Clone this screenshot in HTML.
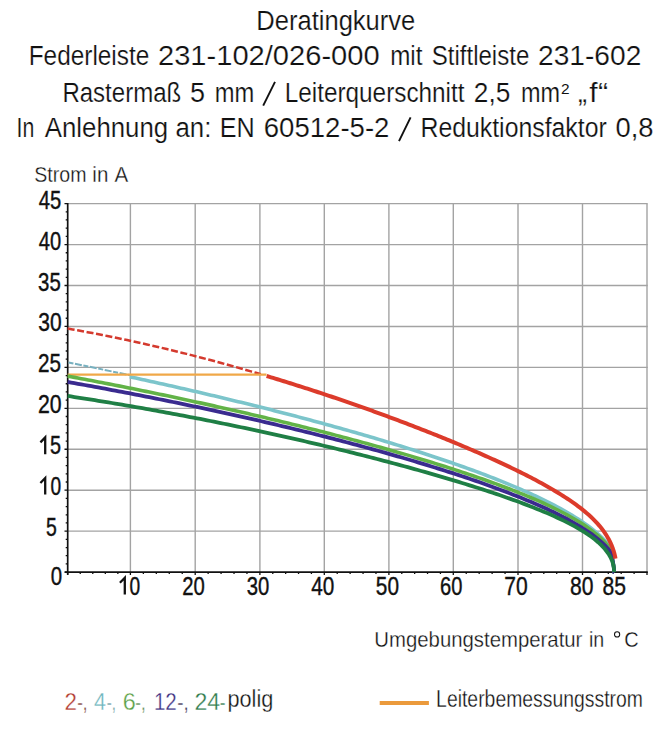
<!DOCTYPE html><html><head><meta charset="utf-8"><style>html,body{margin:0;padding:0;background:#fff;width:671px;height:732px;overflow:hidden}svg{display:block}text{font-family:"Liberation Sans",sans-serif}</style></head><body>
<svg width="671" height="732" viewBox="0 0 671 732">
<rect width="671" height="732" fill="#fff"/>
<text x="256.31" y="29.5" font-size="27" fill="#111" textLength="159.01" lengthAdjust="spacingAndGlyphs" stroke="#fff" stroke-width="0.2">Deratingkurve</text>
<text x="28.69" y="65.0" font-size="27" fill="#111" textLength="120.63" lengthAdjust="spacingAndGlyphs" stroke="#fff" stroke-width="0.2">Federleiste</text>
<text x="158.02" y="65.0" font-size="27" fill="#111" textLength="221.62" lengthAdjust="spacingAndGlyphs" stroke="#fff" stroke-width="0.2">231-102/026-000</text>
<text x="390.21" y="65.0" font-size="27" fill="#111" textLength="32.19" lengthAdjust="spacingAndGlyphs" stroke="#fff" stroke-width="0.2">mit</text>
<text x="431.71" y="65.0" font-size="27" fill="#111" textLength="97.58" lengthAdjust="spacingAndGlyphs" stroke="#fff" stroke-width="0.2">Stiftleiste</text>
<text x="538.06" y="65.0" font-size="27" fill="#111" textLength="103.28" lengthAdjust="spacingAndGlyphs" stroke="#fff" stroke-width="0.2">231-602</text>
<text x="62.42" y="101.8" font-size="27" fill="#111" textLength="118.75" lengthAdjust="spacingAndGlyphs" stroke="#fff" stroke-width="0.2">Rastermaß</text>
<text x="190.00" y="101.8" font-size="27" fill="#111" textLength="15.03" lengthAdjust="spacingAndGlyphs" stroke="#fff" stroke-width="0.2">5</text>
<text x="214.74" y="101.8" font-size="27" fill="#111" textLength="39.50" lengthAdjust="spacingAndGlyphs" stroke="#fff" stroke-width="0.2">mm</text>
<text x="284.70" y="101.8" font-size="27" fill="#111" textLength="179.86" lengthAdjust="spacingAndGlyphs" stroke="#fff" stroke-width="0.2">Leiterquerschnitt</text>
<text x="473.83" y="101.8" font-size="27" fill="#111" textLength="36.50" lengthAdjust="spacingAndGlyphs" stroke="#fff" stroke-width="0.2">2,5</text>
<text x="521.06" y="101.8" font-size="27" fill="#111" textLength="39.06" lengthAdjust="spacingAndGlyphs" stroke="#fff" stroke-width="0.2">mm</text>
<text x="578.10" y="101.8" font-size="27" fill="#111" textLength="9.00" lengthAdjust="spacingAndGlyphs" stroke="#fff" stroke-width="0.2">„</text>
<text x="589.20" y="101.8" font-size="27" fill="#111" textLength="8.36" lengthAdjust="spacingAndGlyphs" stroke="#fff" stroke-width="0.2">f</text>
<text x="598.07" y="101.8" font-size="27" fill="#111" textLength="10.16" lengthAdjust="spacingAndGlyphs" stroke="#fff" stroke-width="0.2">“</text>
<text x="16.52" y="137.0" font-size="27" fill="#111" textLength="17.79" lengthAdjust="spacingAndGlyphs" stroke="#fff" stroke-width="0.2">In</text>
<text x="44.80" y="137.0" font-size="27" fill="#111" textLength="123.33" lengthAdjust="spacingAndGlyphs" stroke="#fff" stroke-width="0.2">Anlehnung</text>
<text x="175.44" y="137.0" font-size="27" fill="#111" textLength="35.89" lengthAdjust="spacingAndGlyphs" stroke="#fff" stroke-width="0.2">an:</text>
<text x="219.64" y="137.0" font-size="27" fill="#111" textLength="34.98" lengthAdjust="spacingAndGlyphs" stroke="#fff" stroke-width="0.2">EN</text>
<text x="263.78" y="137.0" font-size="27" fill="#111" textLength="125.65" lengthAdjust="spacingAndGlyphs" stroke="#fff" stroke-width="0.2">60512-5-2</text>
<text x="420.46" y="137.0" font-size="27" fill="#111" textLength="186.30" lengthAdjust="spacingAndGlyphs" stroke="#fff" stroke-width="0.2">Reduktionsfaktor</text>
<text x="615.49" y="137.0" font-size="27" fill="#111" textLength="38.07" lengthAdjust="spacingAndGlyphs" stroke="#fff" stroke-width="0.2">0,8</text>
<text x="34.31" y="181.5" font-size="22" fill="#111" textLength="52.19" lengthAdjust="spacingAndGlyphs" stroke="#fff" stroke-width="0.3">Strom</text>
<text x="92.37" y="181.5" font-size="22" fill="#111" textLength="15.98" lengthAdjust="spacingAndGlyphs" stroke="#fff" stroke-width="0.3">in</text>
<text x="114.60" y="181.5" font-size="22" fill="#111" textLength="13.71" lengthAdjust="spacingAndGlyphs" stroke="#fff" stroke-width="0.3">A</text>
<text x="374.35" y="646.8" font-size="22" fill="#111" textLength="208.06" lengthAdjust="spacingAndGlyphs" stroke="#fff" stroke-width="0.3">Umgebungstemperatur</text>
<text x="588.91" y="646.8" font-size="22" fill="#111" textLength="15.30" lengthAdjust="spacingAndGlyphs" stroke="#fff" stroke-width="0.3">in</text>
<text x="624.29" y="646.8" font-size="22" fill="#111" textLength="14.42" lengthAdjust="spacingAndGlyphs" stroke="#fff" stroke-width="0.3">C</text>
<text x="436.11" y="707.0" font-size="23" fill="#111" textLength="206.91" lengthAdjust="spacingAndGlyphs" stroke="#fff" stroke-width="0.3">Leiterbemessungsstrom</text>
<text x="227.46" y="707.0" font-size="23" fill="#111" textLength="45.86" lengthAdjust="spacingAndGlyphs" stroke="#fff" stroke-width="0.3">polig</text>
<text x="64.43" y="710.4" font-size="23" fill="#b23a2e" textLength="12.45" lengthAdjust="spacingAndGlyphs" stroke="#fff" stroke-width="0.3">2</text>
<text x="77.16" y="710.4" font-size="23" fill="#7a3a30" textLength="10.36" lengthAdjust="spacingAndGlyphs" stroke="#fff" stroke-width="0.3">-,</text>
<text x="94.00" y="710.4" font-size="23" fill="#6cb4bc" textLength="11.94" lengthAdjust="spacingAndGlyphs" stroke="#fff" stroke-width="0.3">4</text>
<text x="106.75" y="710.4" font-size="23" fill="#6a9aa0" textLength="9.20" lengthAdjust="spacingAndGlyphs" stroke="#fff" stroke-width="0.3">-,</text>
<text x="122.88" y="710.4" font-size="23" fill="#5aa044" textLength="13.03" lengthAdjust="spacingAndGlyphs" stroke="#fff" stroke-width="0.3">6</text>
<text x="135.26" y="710.4" font-size="23" fill="#5a8a50" textLength="10.36" lengthAdjust="spacingAndGlyphs" stroke="#fff" stroke-width="0.3">-,</text>
<text x="153.91" y="710.4" font-size="23" fill="#3a2e80" textLength="22.92" lengthAdjust="spacingAndGlyphs" stroke="#fff" stroke-width="0.3">12</text>
<text x="177.18" y="710.4" font-size="23" fill="#3a3050" textLength="11.51" lengthAdjust="spacingAndGlyphs" stroke="#fff" stroke-width="0.3">-,</text>
<text x="194.50" y="710.4" font-size="23" fill="#2e7a4a" textLength="25.70" lengthAdjust="spacingAndGlyphs" stroke="#fff" stroke-width="0.3">24</text>
<text x="219.75" y="710.4" font-size="23" fill="#2e7a4a" textLength="5.75" lengthAdjust="spacingAndGlyphs" stroke="#fff" stroke-width="0.3">-</text>
<text x="38.70" y="209.3" font-size="25" fill="#111" textLength="22.46" lengthAdjust="spacingAndGlyphs" stroke="#111" stroke-width="0.4">45</text>
<text x="38.80" y="249.7" font-size="25" fill="#111" textLength="22.35" lengthAdjust="spacingAndGlyphs" stroke="#111" stroke-width="0.4">40</text>
<text x="38.08" y="290.7" font-size="25" fill="#111" textLength="22.68" lengthAdjust="spacingAndGlyphs" stroke="#111" stroke-width="0.4">35</text>
<text x="38.36" y="331.1" font-size="25" fill="#111" textLength="23.32" lengthAdjust="spacingAndGlyphs" stroke="#111" stroke-width="0.4">30</text>
<text x="38.07" y="372.1" font-size="25" fill="#111" textLength="23.00" lengthAdjust="spacingAndGlyphs" stroke="#111" stroke-width="0.4">25</text>
<text x="38.05" y="413.0" font-size="25" fill="#111" textLength="23.64" lengthAdjust="spacingAndGlyphs" stroke="#111" stroke-width="0.4">20</text>
<text x="46.12" y="535.9" font-size="25" fill="#111" textLength="10.78" lengthAdjust="spacingAndGlyphs" stroke="#111" stroke-width="0.4">5</text>
<text x="50.68" y="585.3" font-size="25" fill="#111" textLength="11.36" lengthAdjust="spacingAndGlyphs" stroke="#111" stroke-width="0.4">0</text>
<text x="182.19" y="594.6" font-size="25" fill="#111" textLength="22.57" lengthAdjust="spacingAndGlyphs" stroke="#111" stroke-width="0.4">20</text>
<text x="246.69" y="594.6" font-size="25" fill="#111" textLength="22.57" lengthAdjust="spacingAndGlyphs" stroke="#111" stroke-width="0.4">30</text>
<text x="311.20" y="594.6" font-size="25" fill="#111" textLength="23.07" lengthAdjust="spacingAndGlyphs" stroke="#111" stroke-width="0.4">40</text>
<text x="375.87" y="594.6" font-size="25" fill="#111" textLength="23.11" lengthAdjust="spacingAndGlyphs" stroke="#111" stroke-width="0.4">50</text>
<text x="440.00" y="594.6" font-size="25" fill="#111" textLength="22.36" lengthAdjust="spacingAndGlyphs" stroke="#111" stroke-width="0.4">60</text>
<text x="504.36" y="594.6" font-size="25" fill="#111" textLength="23.43" lengthAdjust="spacingAndGlyphs" stroke="#111" stroke-width="0.4">70</text>
<text x="570.06" y="594.6" font-size="25" fill="#111" textLength="23.43" lengthAdjust="spacingAndGlyphs" stroke="#111" stroke-width="0.4">80</text>
<text x="602.46" y="594.6" font-size="25" fill="#111" textLength="23.43" lengthAdjust="spacingAndGlyphs" stroke="#111" stroke-width="0.4">85</text>
<text x="50.11" y="454.2" font-size="25" fill="#111" textLength="11.01" lengthAdjust="spacingAndGlyphs" stroke="#111" stroke-width="0.4">5</text>
<text x="50.43" y="494.5" font-size="25" fill="#111" textLength="10.66" lengthAdjust="spacingAndGlyphs" stroke="#111" stroke-width="0.4">0</text>
<text x="129.43" y="594.6" font-size="25" fill="#111" textLength="10.66" lengthAdjust="spacingAndGlyphs" stroke="#111" stroke-width="0.4">0</text>
<path d="M263.2 105.6L275 81.8M399 141.2L410.6 117.4" stroke="#111" stroke-width="1.9"/>
<path d="M45.2 454.3V437.40000000000003L40.4 442.4" stroke="#111" stroke-width="2.3" fill="none" stroke-linejoin="miter"/>
<path d="M45.2 494.5V478.0L40.4 483.0" stroke="#111" stroke-width="2.3" fill="none" stroke-linejoin="miter"/>
<path d="M124.8 594.6V577.8000000000001L119.9 582.7" stroke="#111" stroke-width="2.3" fill="none" stroke-linejoin="miter"/>
<circle cx="617.1" cy="634.4" r="2.6" fill="none" stroke="#111" stroke-width="1.05"/>
<text x="561.0" y="93.6" font-size="14" fill="#111" textLength="8.6" lengthAdjust="spacingAndGlyphs">2</text>
<line x1="130.4" y1="203.64000000000004" x2="130.4" y2="572.1" stroke="#a3a3a3" stroke-width="1.4"/>
<line x1="195.2" y1="203.64000000000004" x2="195.2" y2="572.1" stroke="#a3a3a3" stroke-width="1.4"/>
<line x1="259.9" y1="203.64000000000004" x2="259.9" y2="572.1" stroke="#a3a3a3" stroke-width="1.4"/>
<line x1="324.3" y1="203.64000000000004" x2="324.3" y2="572.1" stroke="#a3a3a3" stroke-width="1.4"/>
<line x1="388.9" y1="203.64000000000004" x2="388.9" y2="572.1" stroke="#a3a3a3" stroke-width="1.4"/>
<line x1="453.3" y1="203.64000000000004" x2="453.3" y2="572.1" stroke="#a3a3a3" stroke-width="1.4"/>
<line x1="518.0" y1="203.64000000000004" x2="518.0" y2="572.1" stroke="#a3a3a3" stroke-width="1.4"/>
<line x1="582.5" y1="203.64000000000004" x2="582.5" y2="572.1" stroke="#a3a3a3" stroke-width="1.4"/>
<line x1="647.0" y1="203.64000000000004" x2="647.0" y2="572.1" stroke="#a3a3a3" stroke-width="1.4"/>
<line x1="67.7" y1="531.16" x2="647.7" y2="531.16" stroke="#a3a3a3" stroke-width="1.4"/>
<line x1="67.7" y1="490.22" x2="647.7" y2="490.22" stroke="#a3a3a3" stroke-width="1.4"/>
<line x1="67.7" y1="449.28" x2="647.7" y2="449.28" stroke="#a3a3a3" stroke-width="1.4"/>
<line x1="67.7" y1="408.34" x2="647.7" y2="408.34" stroke="#a3a3a3" stroke-width="1.4"/>
<line x1="67.7" y1="367.40" x2="647.7" y2="367.40" stroke="#a3a3a3" stroke-width="1.4"/>
<line x1="67.7" y1="326.46" x2="647.7" y2="326.46" stroke="#a3a3a3" stroke-width="1.4"/>
<line x1="67.7" y1="285.52" x2="647.7" y2="285.52" stroke="#a3a3a3" stroke-width="1.4"/>
<line x1="67.7" y1="244.58" x2="647.7" y2="244.58" stroke="#a3a3a3" stroke-width="1.4"/>
<line x1="67.7" y1="203.64" x2="647.7" y2="203.64" stroke="#a3a3a3" stroke-width="1.4"/>
<line x1="67.7" y1="202.94" x2="67.7" y2="574.8" stroke="#111" stroke-width="1.7"/>
<line x1="64.8" y1="572.1" x2="647.8" y2="572.1" stroke="#111" stroke-width="1.7"/>
<path d="M64.50 572.10H67.70 M65.70 563.91H67.70 M65.70 555.72H67.70 M65.70 547.53H67.70 M65.70 539.34H67.70 M64.50 531.15H67.70 M65.70 522.97H67.70 M65.70 514.78H67.70 M65.70 506.59H67.70 M65.70 498.40H67.70 M64.50 490.21H67.70 M65.70 482.02H67.70 M65.70 473.83H67.70 M65.70 465.64H67.70 M65.70 457.45H67.70 M64.50 449.26H67.70 M65.70 441.08H67.70 M65.70 432.89H67.70 M65.70 424.70H67.70 M65.70 416.51H67.70 M64.50 408.32H67.70 M65.70 400.13H67.70 M65.70 391.94H67.70 M65.70 383.75H67.70 M65.70 375.56H67.70 M64.50 367.38H67.70 M65.70 359.19H67.70 M65.70 351.00H67.70 M65.70 342.81H67.70 M65.70 334.62H67.70 M64.50 326.43H67.70 M65.70 318.24H67.70 M65.70 310.05H67.70 M65.70 301.86H67.70 M65.70 293.67H67.70 M64.50 285.49H67.70 M65.70 277.30H67.70 M65.70 269.11H67.70 M65.70 260.92H67.70 M65.70 252.73H67.70 M64.50 244.54H67.70 M65.70 236.35H67.70 M65.70 228.16H67.70 M65.70 219.97H67.70 M65.70 211.78H67.70 M64.50 203.60H67.70 M67.70 572.10V574.90 M80.24 572.10V574.10 M92.78 572.10V574.10 M105.32 572.10V574.10 M117.86 572.10V574.10 M130.40 572.10V574.90 M143.36 572.10V574.10 M156.32 572.10V574.10 M169.28 572.10V574.10 M182.24 572.10V574.10 M195.20 572.10V574.90 M208.14 572.10V574.10 M221.08 572.10V574.10 M234.02 572.10V574.10 M246.96 572.10V574.10 M259.90 572.10V574.90 M272.78 572.10V574.10 M285.66 572.10V574.10 M298.54 572.10V574.10 M311.42 572.10V574.10 M324.30 572.10V574.90 M337.22 572.10V574.10 M350.14 572.10V574.10 M363.06 572.10V574.10 M375.98 572.10V574.10 M388.90 572.10V574.90 M401.78 572.10V574.10 M414.66 572.10V574.10 M427.54 572.10V574.10 M440.42 572.10V574.10 M453.30 572.10V574.90 M466.24 572.10V574.10 M479.18 572.10V574.10 M492.12 572.10V574.10 M505.06 572.10V574.10 M518.00 572.10V574.90 M530.90 572.10V574.10 M543.80 572.10V574.10 M556.70 572.10V574.10 M569.60 572.10V574.10 M582.50 572.10V574.90 M595.40 572.10V574.10 M608.30 572.10V574.10 M621.20 572.10V574.10 M634.10 572.10V574.10 M647.00 572.10V574.90" stroke="#111" stroke-width="1.3" fill="none"/>
<path d="M67.67 328.59 L72.63 329.46 L77.58 330.34 L82.53 331.24 L87.48 332.16 L92.44 333.09 L97.39 334.04 L102.34 335.00 L107.30 335.99 L112.25 336.99 L117.20 338.00 L122.15 339.04 L127.11 340.08 L132.06 341.15 L137.01 342.23 L141.96 343.33 L146.92 344.44 L151.87 345.57 L156.82 346.71 L161.78 347.87 L166.73 349.05 L171.68 350.24 L176.63 351.45 L181.59 352.67 L186.54 353.91 L191.49 355.16 L196.45 356.43 L201.40 357.72 L206.35 359.02 L211.30 360.33 L216.26 361.66 L221.21 363.00 L226.16 364.36 L231.11 365.73 L236.07 367.12 L241.02 368.52 L245.97 369.94 L250.93 371.37 L255.88 372.82 L260.83 374.28" stroke="#d43a2e" stroke-width="2.5" fill="none" stroke-dasharray="7 2.6"/>
<path d="M68.5 362.4L131 375.4" stroke="#78b0bf" stroke-width="2" fill="none" stroke-dasharray="5 1.6 7 1.6"/>
<path d="M129.73 376.81 L132.74 377.46 L135.75 378.11 L138.76 378.76 L141.77 379.42 L144.78 380.07 L147.79 380.73 L150.80 381.40 L153.81 382.06 L156.82 382.73 L159.83 383.40 L162.84 384.07 L165.85 384.74 L168.86 385.42 L171.87 386.10 L174.88 386.78 L177.89 387.46 L180.90 388.14 L183.91 388.83 L186.92 389.52 L189.93 390.21 L192.94 390.91 L195.95 391.61 L198.96 392.31 L201.97 393.01 L204.98 393.71 L207.99 394.42 L211.00 395.13 L214.01 395.84 L217.01 396.55 L220.02 397.27 L223.03 397.99 L226.04 398.71 L229.05 399.44 L232.06 400.16 L235.07 400.89 L238.08 401.63 L241.09 402.36 L244.10 403.10 L247.11 403.84 L250.12 404.59 L253.13 405.33 L256.14 406.08 L259.15 406.83 L262.16 407.59 L265.17 408.35 L268.18 409.11 L271.19 409.87 L274.20 410.64 L277.21 411.41 L280.22 412.18 L283.23 412.95 L286.24 413.73 L289.25 414.52 L292.26 415.30 L295.27 416.09 L298.28 416.88 L301.29 417.68 L304.30 418.47 L307.30 419.28 L310.31 420.08 L313.32 420.89 L316.33 421.70 L319.34 422.52 L322.35 423.33 L325.36 424.16 L328.37 424.98 L331.38 425.81 L334.39 426.65 L337.40 427.48 L340.41 428.32 L343.42 429.17 L346.43 430.02 L349.44 430.87 L352.45 431.73 L355.46 432.59 L358.47 433.45 L361.48 434.32 L364.49 435.20 L367.50 436.08 L370.51 436.96 L373.52 437.84 L376.53 438.74 L379.54 439.63 L382.55 440.53 L385.56 441.44 L388.57 442.35 L391.58 443.27 L394.59 444.19 L397.59 445.11 L400.60 446.04 L403.61 446.98 L406.62 447.92 L409.63 448.87 L412.64 449.82 L415.65 450.78 L418.66 451.75 L421.67 452.72 L424.68 453.70 L427.69 454.68 L430.70 455.67 L433.71 456.67 L436.72 457.67 L439.73 458.68 L442.74 459.70 L445.75 460.72 L448.76 461.75 L451.77 462.79 L454.78 463.84 L457.79 464.90 L460.80 465.96 L463.81 467.03 L466.82 468.12 L469.83 469.21 L472.84 470.31 L475.85 471.42 L478.86 472.53 L481.87 473.66 L484.88 474.80 L487.89 475.96 L490.89 477.12 L493.90 478.29 L496.91 479.48 L499.92 480.68 L502.93 481.89 L505.94 483.11 L508.95 484.35 L511.96 485.60 L514.97 486.87 L517.98 488.16 L520.99 489.46 L524.00 490.78 L527.01 492.12 L530.02 493.48 L533.03 494.85 L536.04 496.25 L539.05 497.67 L542.06 499.12 L545.07 500.59 L548.08 502.09 L551.09 503.61 L554.10 505.17 L557.11 506.76 L560.12 508.39 L563.13 510.05 L566.14 511.76 L569.15 513.51 L572.16 515.31 L575.17 517.16 L578.18 519.08 L581.18 521.06 L584.19 523.11 L587.20 525.26 L590.21 527.49 L593.22 529.85 L596.23 532.33 L599.24 534.98 L602.25 537.83 L605.26 540.93 L608.27 544.38 L608.43 544.56 L608.58 544.75 L608.73 544.94 L608.89 545.13 L609.04 545.33 L609.20 545.52 L609.35 545.72 L609.50 545.92 L609.66 546.17 L609.81 546.48 L609.97 546.85 L610.12 547.26 L610.27 547.72 L610.43 548.23 L610.58 548.79 L610.74 549.38 L610.89 550.02 L611.04 550.69 L611.20 551.39 L611.35 552.13 L611.51 552.90 L611.66 553.70 L611.81 554.53 L611.97 555.38 L612.12 556.25 L612.28 557.14 L612.43 558.05 L612.58 558.99 L612.74 559.94 L612.89 560.91 L613.05 561.90 L613.20 562.91 L613.35 563.96 L613.51 565.05 L613.66 566.22 L613.82 567.53 L613.97 569.17 L614.12 572.04 L614.28 572.10" stroke="#7cc5cb" stroke-width="3.6" fill="none"/>
<line x1="67.7" y1="374.7" x2="266.5" y2="374.7" stroke="#f0a848" stroke-width="2.3"/>
<path d="M67.67 376.11 L71.07 376.74 L74.47 377.38 L77.87 378.02 L81.27 378.66 L84.67 379.30 L88.07 379.95 L91.47 380.60 L94.87 381.25 L98.27 381.90 L101.67 382.56 L105.07 383.22 L108.47 383.89 L111.87 384.55 L115.27 385.22 L118.67 385.89 L122.07 386.57 L125.47 387.24 L128.87 387.92 L132.27 388.61 L135.67 389.29 L139.07 389.98 L142.47 390.67 L145.87 391.37 L149.27 392.06 L152.67 392.76 L156.07 393.47 L159.47 394.17 L162.87 394.88 L166.27 395.59 L169.67 396.31 L173.07 397.03 L176.47 397.75 L179.87 398.47 L183.27 399.20 L186.67 399.93 L190.07 400.66 L193.47 401.40 L196.87 402.14 L200.27 402.88 L203.67 403.62 L207.07 404.37 L210.47 405.13 L213.87 405.88 L217.27 406.64 L220.67 407.40 L224.07 408.16 L227.47 408.93 L230.87 409.70 L234.27 410.48 L237.67 411.25 L241.07 412.03 L244.47 412.82 L247.87 413.61 L251.27 414.40 L254.67 415.19 L258.07 415.99 L261.47 416.79 L264.87 417.59 L268.27 418.40 L271.67 419.22 L275.07 420.03 L278.47 420.85 L281.87 421.67 L285.27 422.50 L288.67 423.33 L292.07 424.16 L295.47 425.00 L298.87 425.84 L302.27 426.69 L305.67 427.54 L309.07 428.39 L312.47 429.25 L315.87 430.11 L319.27 430.98 L322.67 431.84 L326.07 432.72 L329.47 433.60 L332.87 434.48 L336.27 435.37 L339.67 436.26 L343.07 437.15 L346.47 438.05 L349.87 438.96 L353.27 439.87 L356.67 440.78 L360.07 441.70 L363.47 442.63 L366.87 443.56 L370.27 444.49 L373.67 445.43 L377.07 446.38 L380.47 447.33 L383.87 448.28 L387.27 449.24 L390.67 450.21 L394.07 451.18 L397.47 452.16 L400.87 453.15 L404.27 454.14 L407.67 455.13 L411.07 456.14 L414.47 457.15 L417.87 458.17 L421.27 459.19 L424.67 460.22 L428.07 461.26 L431.47 462.30 L434.87 463.36 L438.27 464.42 L441.67 465.49 L445.07 466.56 L448.47 467.65 L451.87 468.75 L455.27 469.85 L458.67 470.96 L462.07 472.09 L465.47 473.22 L468.87 474.36 L472.27 475.52 L475.67 476.68 L479.07 477.86 L482.47 479.05 L485.87 480.25 L489.27 481.46 L492.67 482.69 L496.07 483.93 L499.47 485.19 L502.87 486.46 L506.27 487.74 L509.67 489.05 L513.07 490.37 L516.47 491.71 L519.87 493.07 L523.27 494.45 L526.67 495.86 L530.07 497.28 L533.47 498.73 L536.87 500.21 L540.27 501.72 L543.67 503.25 L547.07 504.82 L550.47 506.43 L553.87 508.07 L557.27 509.75 L560.67 511.48 L564.07 513.26 L567.47 515.09 L570.87 516.98 L574.27 518.94 L577.67 520.98 L581.07 523.10 L584.47 525.32 L587.87 527.66 L591.27 530.13 L594.67 532.78 L598.07 535.62 L601.47 538.73 L604.87 542.18 L608.27 546.14 L608.43 546.33 L608.58 546.53 L608.73 546.73 L608.89 546.93 L609.04 547.13 L609.20 547.33 L609.35 547.54 L609.50 547.75 L609.66 548.00 L609.81 548.30 L609.97 548.64 L610.12 549.03 L610.27 549.46 L610.43 549.92 L610.58 550.42 L610.74 550.96 L610.89 551.53 L611.04 552.14 L611.20 552.77 L611.35 553.43 L611.51 554.12 L611.66 554.83 L611.81 555.57 L611.97 556.33 L612.12 557.12 L612.28 557.92 L612.43 558.74 L612.58 559.59 L612.74 560.46 L612.89 561.34 L613.05 562.26 L613.20 563.20 L613.35 564.18 L613.51 565.21 L613.66 566.33 L613.82 567.59 L613.97 569.20 L614.12 572.05 L614.28 572.10" stroke="#62b347" stroke-width="3.6" fill="none"/>
<path d="M67.67 381.96 L71.07 382.56 L74.47 383.17 L77.87 383.77 L81.27 384.38 L84.67 385.00 L88.07 385.61 L91.47 386.23 L94.87 386.85 L98.27 387.48 L101.67 388.11 L105.07 388.74 L108.47 389.37 L111.87 390.01 L115.27 390.65 L118.67 391.29 L122.07 391.94 L125.47 392.59 L128.87 393.24 L132.27 393.90 L135.67 394.56 L139.07 395.22 L142.47 395.88 L145.87 396.55 L149.27 397.22 L152.67 397.90 L156.07 398.57 L159.47 399.25 L162.87 399.94 L166.27 400.63 L169.67 401.32 L173.07 402.01 L176.47 402.71 L179.87 403.41 L183.27 404.11 L186.67 404.82 L190.07 405.53 L193.47 406.24 L196.87 406.96 L200.27 407.68 L203.67 408.40 L207.07 409.13 L210.47 409.86 L213.87 410.59 L217.27 411.33 L220.67 412.07 L224.07 412.82 L227.47 413.57 L230.87 414.32 L234.27 415.07 L237.67 415.83 L241.07 416.60 L244.47 417.36 L247.87 418.13 L251.27 418.91 L254.67 419.68 L258.07 420.46 L261.47 421.25 L264.87 422.04 L268.27 422.83 L271.67 423.63 L275.07 424.43 L278.47 425.24 L281.87 426.04 L285.27 426.86 L288.67 427.67 L292.07 428.50 L295.47 429.32 L298.87 430.15 L302.27 430.99 L305.67 431.82 L309.07 432.67 L312.47 433.51 L315.87 434.37 L319.27 435.22 L322.67 436.08 L326.07 436.95 L329.47 437.82 L332.87 438.69 L336.27 439.57 L339.67 440.46 L343.07 441.34 L346.47 442.24 L349.87 443.14 L353.27 444.04 L356.67 444.95 L360.07 445.87 L363.47 446.79 L366.87 447.71 L370.27 448.64 L373.67 449.58 L377.07 450.52 L380.47 451.47 L383.87 452.42 L387.27 453.38 L390.67 454.35 L394.07 455.32 L397.47 456.30 L400.87 457.28 L404.27 458.27 L407.67 459.27 L411.07 460.28 L414.47 461.29 L417.87 462.31 L421.27 463.33 L424.67 464.37 L428.07 465.41 L431.47 466.46 L434.87 467.51 L438.27 468.58 L441.67 469.65 L445.07 470.73 L448.47 471.82 L451.87 472.92 L455.27 474.03 L458.67 475.15 L462.07 476.28 L465.47 477.42 L468.87 478.57 L472.27 479.73 L475.67 480.90 L479.07 482.08 L482.47 483.28 L485.87 484.48 L489.27 485.70 L492.67 486.94 L496.07 488.18 L499.47 489.44 L502.87 490.72 L506.27 492.01 L509.67 493.32 L513.07 494.65 L516.47 495.99 L519.87 497.36 L523.27 498.74 L526.67 500.14 L530.07 501.57 L533.47 503.02 L536.87 504.50 L540.27 506.00 L543.67 507.53 L547.07 509.09 L550.47 510.68 L553.87 512.31 L557.27 513.98 L560.67 515.69 L564.07 517.44 L567.47 519.25 L570.87 521.11 L574.27 523.03 L577.67 525.02 L581.07 527.09 L584.47 529.25 L587.87 531.51 L591.27 533.90 L594.67 536.43 L598.07 539.15 L601.47 542.09 L604.87 545.35 L608.27 549.05 L608.43 549.24 L608.58 549.42 L608.73 549.60 L608.89 549.79 L609.04 549.98 L609.20 550.17 L609.35 550.36 L609.50 550.55 L609.66 550.77 L609.81 551.03 L609.97 551.31 L610.12 551.62 L610.27 551.97 L610.43 552.34 L610.58 552.74 L610.74 553.16 L610.89 553.62 L611.04 554.10 L611.20 554.61 L611.35 555.14 L611.51 555.69 L611.66 556.28 L611.81 556.88 L611.97 557.51 L612.12 558.17 L612.28 558.85 L612.43 559.55 L612.58 560.28 L612.74 561.04 L612.89 561.82 L613.05 562.64 L613.20 563.50 L613.35 564.40 L613.51 565.37 L613.66 566.43 L613.82 567.65 L613.97 569.22 L614.12 572.06 L614.28 572.10" stroke="#3a2b8f" stroke-width="3.8" fill="none"/>
<path d="M67.67 395.97 L71.07 396.49 L74.47 397.01 L77.87 397.54 L81.27 398.07 L84.67 398.60 L88.07 399.14 L91.47 399.68 L94.87 400.22 L98.27 400.77 L101.67 401.32 L105.07 401.88 L108.47 402.44 L111.87 403.00 L115.27 403.57 L118.67 404.14 L122.07 404.71 L125.47 405.29 L128.87 405.87 L132.27 406.46 L135.67 407.05 L139.07 407.64 L142.47 408.24 L145.87 408.84 L149.27 409.45 L152.67 410.06 L156.07 410.67 L159.47 411.29 L162.87 411.91 L166.27 412.53 L169.67 413.16 L173.07 413.80 L176.47 414.43 L179.87 415.07 L183.27 415.72 L186.67 416.36 L190.07 417.01 L193.47 417.67 L196.87 418.33 L200.27 418.99 L203.67 419.66 L207.07 420.33 L210.47 421.00 L213.87 421.68 L217.27 422.36 L220.67 423.05 L224.07 423.74 L227.47 424.43 L230.87 425.13 L234.27 425.83 L237.67 426.54 L241.07 427.25 L244.47 427.96 L247.87 428.68 L251.27 429.40 L254.67 430.13 L258.07 430.86 L261.47 431.59 L264.87 432.33 L268.27 433.07 L271.67 433.81 L275.07 434.56 L278.47 435.31 L281.87 436.07 L285.27 436.83 L288.67 437.60 L292.07 438.37 L295.47 439.14 L298.87 439.92 L302.27 440.70 L305.67 441.49 L309.07 442.28 L312.47 443.07 L315.87 443.87 L319.27 444.67 L322.67 445.48 L326.07 446.29 L329.47 447.11 L332.87 447.93 L336.27 448.75 L339.67 449.58 L343.07 450.42 L346.47 451.25 L349.87 452.10 L353.27 452.94 L356.67 453.80 L360.07 454.65 L363.47 455.52 L366.87 456.38 L370.27 457.25 L373.67 458.13 L377.07 459.01 L380.47 459.90 L383.87 460.79 L387.27 461.69 L390.67 462.59 L394.07 463.50 L397.47 464.41 L400.87 465.33 L404.27 466.25 L407.67 467.18 L411.07 468.12 L414.47 469.06 L417.87 470.01 L421.27 470.96 L424.67 471.92 L428.07 472.89 L431.47 473.87 L434.87 474.85 L438.27 475.83 L441.67 476.83 L445.07 477.83 L448.47 478.84 L451.87 479.86 L455.27 480.88 L458.67 481.92 L462.07 482.96 L465.47 484.01 L468.87 485.07 L472.27 486.14 L475.67 487.22 L479.07 488.30 L482.47 489.40 L485.87 490.51 L489.27 491.63 L492.67 492.77 L496.07 493.91 L499.47 495.07 L502.87 496.24 L506.27 497.43 L509.67 498.63 L513.07 499.85 L516.47 501.08 L519.87 502.33 L523.27 503.60 L526.67 504.89 L530.07 506.20 L533.47 507.53 L536.87 508.89 L540.27 510.27 L543.67 511.68 L547.07 513.12 L550.47 514.59 L553.87 516.10 L557.27 517.65 L560.67 519.24 L564.07 520.89 L567.47 522.58 L570.87 524.33 L574.27 526.16 L577.67 528.06 L581.07 530.05 L584.47 532.15 L587.87 534.38 L591.27 536.76 L594.67 539.34 L598.07 542.17 L601.47 545.34 L604.87 549.02 L608.27 553.54 L608.42 553.77 L608.57 554.00 L608.72 554.24 L608.87 554.47 L609.02 554.71 L609.17 554.96 L609.32 555.21 L609.46 555.46 L609.61 555.72 L609.76 555.98 L609.91 556.25 L610.06 556.52 L610.21 556.80 L610.36 557.09 L610.51 557.38 L610.66 557.67 L610.81 557.98 L610.95 558.29 L611.10 558.61 L611.25 558.94 L611.40 559.28 L611.55 559.62 L611.70 559.98 L611.85 560.35 L612.00 560.74 L612.15 561.14 L612.30 561.55 L612.44 561.99 L612.59 562.44 L612.74 562.93 L612.89 563.44 L613.04 563.98 L613.19 564.57 L613.34 565.21 L613.49 565.92 L613.64 566.74 L613.79 567.70 L613.94 568.98 L614.08 572.10" stroke="#1f7f45" stroke-width="3.8" fill="none"/>
<path d="M266.64 376.01 L268.79 376.66 L270.94 377.30 L273.09 377.95 L275.24 378.61 L277.39 379.26 L279.54 379.92 L281.68 380.58 L283.83 381.25 L285.98 381.91 L288.13 382.58 L290.28 383.26 L292.43 383.93 L294.58 384.61 L296.72 385.29 L298.87 385.97 L301.02 386.65 L303.17 387.34 L305.32 388.03 L307.47 388.72 L309.62 389.42 L311.76 390.12 L313.91 390.82 L316.06 391.52 L318.21 392.23 L320.36 392.94 L322.51 393.65 L324.66 394.36 L326.80 395.08 L328.95 395.80 L331.10 396.52 L333.25 397.24 L335.40 397.97 L337.55 398.70 L339.70 399.43 L341.84 400.17 L343.99 400.91 L346.14 401.65 L348.29 402.39 L350.44 403.13 L352.59 403.88 L354.74 404.63 L356.89 405.39 L359.03 406.14 L361.18 406.90 L363.33 407.66 L365.48 408.43 L367.63 409.19 L369.78 409.96 L371.93 410.73 L374.07 411.51 L376.22 412.29 L378.37 413.07 L380.52 413.85 L382.67 414.64 L384.82 415.42 L386.97 416.21 L389.11 417.01 L391.26 417.81 L393.41 418.61 L395.56 419.41 L397.71 420.21 L399.86 421.02 L402.01 421.83 L404.15 422.65 L406.30 423.46 L408.45 424.28 L410.60 425.10 L412.75 425.93 L414.90 426.76 L417.05 427.59 L419.19 428.43 L421.34 429.26 L423.49 430.10 L425.64 430.95 L427.79 431.80 L429.94 432.65 L432.09 433.50 L434.23 434.36 L436.38 435.22 L438.53 436.08 L440.68 436.95 L442.83 437.82 L444.98 438.69 L447.13 439.57 L449.28 440.45 L451.42 441.34 L453.57 442.22 L455.72 443.12 L457.87 444.01 L460.02 444.91 L462.17 445.82 L464.32 446.73 L466.46 447.64 L468.61 448.55 L470.76 449.48 L472.91 450.40 L475.06 451.33 L477.21 452.27 L479.36 453.20 L481.50 454.15 L483.65 455.10 L485.80 456.05 L487.95 457.01 L490.10 457.98 L492.25 458.95 L494.40 459.92 L496.54 460.90 L498.69 461.89 L500.84 462.89 L502.99 463.89 L505.14 464.89 L507.29 465.91 L509.44 466.93 L511.58 467.96 L513.73 468.99 L515.88 470.04 L518.03 471.09 L520.18 472.15 L522.33 473.22 L524.48 474.30 L526.63 475.39 L528.77 476.49 L530.92 477.59 L533.07 478.71 L535.22 479.85 L537.37 480.99 L539.52 482.15 L541.67 483.32 L543.81 484.50 L545.96 485.70 L548.11 486.91 L550.26 488.14 L552.41 489.39 L554.56 490.66 L556.71 491.95 L558.85 493.26 L561.00 494.59 L563.15 495.95 L565.30 497.33 L567.45 498.74 L569.60 500.18 L571.75 501.65 L573.89 503.16 L576.04 504.71 L578.19 506.31 L580.34 507.95 L582.49 509.64 L584.64 511.39 L586.79 513.21 L588.93 515.09 L591.08 517.07 L593.23 519.13 L595.38 521.31 L597.53 523.62 L599.68 526.09 L601.83 528.74 L603.97 531.63 L606.12 534.82 L608.27 538.42 L608.46 538.76 L608.64 539.10 L608.83 539.44 L609.01 539.79 L609.20 540.15 L609.38 540.51 L609.57 540.87 L609.76 541.24 L609.94 541.62 L610.13 542.00 L610.31 542.39 L610.50 542.79 L610.68 543.19 L610.87 543.60 L611.05 544.02 L611.24 544.44 L611.42 544.88 L611.61 545.32 L611.80 545.77 L611.98 546.23 L612.17 546.71 L612.35 547.19 L612.54 547.69 L612.72 548.20 L612.91 548.72 L613.09 549.26 L613.28 549.82 L613.46 550.39 L613.65 550.98 L613.84 551.59 L614.02 552.23 L614.21 552.89 L614.39 553.58 L614.58 554.30 L614.76 555.06 L614.95 555.87 L615.13 556.72 L615.32 557.63 L615.50 558.61" stroke="#dc3b2b" stroke-width="4" fill="none"/>
<line x1="379.7" y1="702.9" x2="428.9" y2="702.9" stroke="#eb9a3c" stroke-width="4"/>
</svg></body></html>
